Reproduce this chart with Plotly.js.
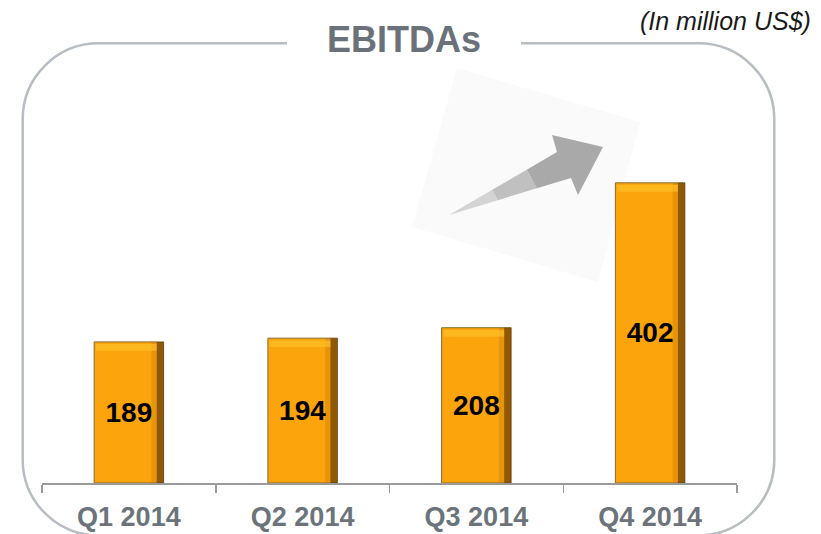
<!DOCTYPE html>
<html>
<head>
<meta charset="utf-8">
<script src="https://cdn.plot.ly/plotly-3.0.1.min.js"></script>
<style>html,body{margin:0;padding:0;background:#fff;}#chart{width:821px;height:534px;}</style>
</head>
<body>
<div id="chart"></div>
<script>
// ---- data ----
const categories = ['Q1 2014', 'Q2 2014', 'Q3 2014', 'Q4 2014'];
const ebitda = [189, 194, 208, 402];
const chartTitle = 'EBITDAs';
const unitNote = '(In million US$)';

// ---- layout geometry ----
const W = 821, H = 534;
const ML = 42, PW = 695, MT = 147, PH = 336;
const MR = W - ML - PW, MB = H - MT - PH;
const px = x => (x - ML) / PW;
const py = y => (MT + PH - y) / PH;
const P = (x, y) => px(x).toFixed(5) + ',' + py(y).toFixed(5);

const FONT = 'Liberation Sans, Arial, sans-serif';
const barW = 0.4;

// main bars
const mainBar = {
  type: 'bar', x: categories, y: ebitda, width: barW,
  marker: {color: '#FBA40C', line: {color: '#8c6a30', width: 1}},
  texttemplate: '<b>%{y}</b>', textposition: 'inside', insidetextanchor: 'middle',
  constraintext: 'none',
  textfont: {family: FONT, size: 28, color: '#000000'},
  hoverinfo: 'skip', showlegend: false
};
// shading strips (decorative, following the same values)
const edgeMid = {
  type: 'bar', x: categories, y: ebitda, width: 0.03, offset: barW / 2 - 0.07,
  marker: {color: 'rgba(150,80,0,0.18)', line: {width: 0}},
  hoverinfo: 'skip', showlegend: false
};
const edgeDark = {
  type: 'bar', x: categories, y: ebitda, width: 0.04, offset: barW / 2 - 0.04,
  marker: {color: 'rgba(70,38,0,0.6)', line: {width: 0}},
  hoverinfo: 'skip', showlegend: false
};
const topBevel = {
  type: 'bar', x: categories, y: ebitda.map(() => 9), base: ebitda.map(v => v - 12),
  width: barW - 0.05, offset: -barW / 2 + 0.01,
  marker: {color: 'rgba(255,200,50,0.55)', line: {width: 0}},
  hoverinfo: 'skip', showlegend: false
};

// rounded frame around the chart, broken by the title
const L = 22.7, R = 774.3, T = 43.3, B = 535.5, r = 76, k = 0.5523 * r;
const framePath =
  'M' + P(287, T) + ' L' + P(L + r, T) +
  ' C' + P(L + r - k, T) + ' ' + P(L, T + r - k) + ' ' + P(L, T + r) +
  ' L' + P(L, B - r) +
  ' C' + P(L, B - r + k) + ' ' + P(L + r - k, B) + ' ' + P(L + r, B) +
  ' L' + P(R - r, B) +
  ' C' + P(R - r + k, B) + ' ' + P(R, B - r + k) + ' ' + P(R, B - r) +
  ' L' + P(R, T + r) +
  ' C' + P(R, T + r - k) + ' ' + P(R - r + k, T) + ' ' + P(R - r, T) +
  ' L' + P(521, T);

// arrow decoration
const sq = 'M' + P(457, 68) + ' L' + P(640, 122) + ' L' + P(598, 282) + ' L' + P(412, 227) + ' Z';
const Tl = [449, 215], U = [557, 152], Lo = [571, 178];
const lerp = (a, b, t) => [a[0] + (b[0] - a[0]) * t, a[1] + (b[1] - a[1]) * t];
const u1 = lerp(Tl, U, 0.4), l1 = lerp(Tl, Lo, 0.4);
const u2 = lerp(Tl, U, 0.72), l2 = lerp(Tl, Lo, 0.72);
const arrowTail = 'M' + P(...Tl) + ' L' + P(...u1) + ' L' + P(...l1) + ' Z';
const arrowMid = 'M' + P(...u1) + ' L' + P(...u2) + ' L' + P(...l2) + ' L' + P(...l1) + ' Z';
const arrowHead = 'M' + P(...u2) + ' L' + P(...U) + ' L' + P(552, 135) + ' L' + P(603, 147) +
  ' L' + P(578, 195) + ' L' + P(...Lo) + ' L' + P(...l2) + ' Z';

const layout = {
  width: W, height: H,
  margin: {l: ML, r: MR, t: MT, b: MB, pad: 0},
  paper_bgcolor: '#ffffff', plot_bgcolor: 'rgba(0,0,0,0)',
  barmode: 'overlay', showlegend: false,
  font: {family: FONT},
  xaxis: {
    type: 'category', range: [-0.5, 3.5], fixedrange: true,
    showline: true, linecolor: '#9a9a9a', linewidth: 1.5,
    ticks: 'outside', tickson: 'boundaries', ticklen: 8, tickwidth: 1.5, tickcolor: '#9a9a9a',
    ticklabelstandoff: 9,
    tickfont: {family: FONT, size: 27, color: '#6b737b', weight: 'bold'},
    showgrid: false, zeroline: false
  },
  yaxis: {range: [0, 450], visible: false, showgrid: false, zeroline: false, fixedrange: true},
  shapes: [
    {type: 'path', xref: 'paper', yref: 'paper', path: sq, fillcolor: '#fafafa', line: {width: 0}, layer: 'below'},
    {type: 'path', xref: 'paper', yref: 'paper', path: arrowTail, fillcolor: '#d4d4d4', line: {width: 0}, layer: 'below'},
    {type: 'path', xref: 'paper', yref: 'paper', path: arrowMid, fillcolor: '#c0c0c0', line: {width: 0}, layer: 'below'},
    {type: 'path', xref: 'paper', yref: 'paper', path: arrowHead, fillcolor: '#a9a9a9', line: {width: 0}, layer: 'below'},
    {type: 'path', xref: 'paper', yref: 'paper', path: framePath, line: {color: '#b7bdc3', width: 2.5}, layer: 'below'}
  ],
  annotations: [
    {xref: 'paper', yref: 'paper', x: px(404), y: py(39), xanchor: 'center', yanchor: 'middle',
     text: '<b>' + chartTitle + '</b>', showarrow: false,
     font: {family: FONT, size: 36, color: '#6b7179'}},
    {xref: 'paper', yref: 'paper', x: px(813), y: py(21), xanchor: 'right', yanchor: 'middle',
     text: '<i>' + unitNote + '</i>', showarrow: false,
     font: {family: FONT, size: 25, color: '#1a1a1a'}}
  ]
};

Plotly.newPlot('chart', [mainBar, edgeMid, edgeDark, topBevel], layout, {displayModeBar: false, staticPlot: true});
</script>
</body>
</html>
